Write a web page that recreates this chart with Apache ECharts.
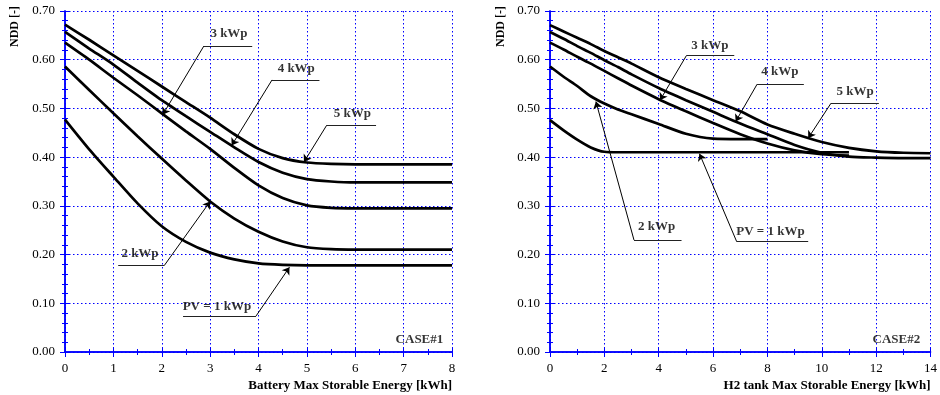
<!DOCTYPE html>
<html>
<head>
<meta charset="utf-8">
<script src="https://cdn.jsdelivr.net/npm/echarts@6/dist/echarts.min.js"></script>
<style>
  html, body { margin: 0; padding: 0; background: #fff; }
  #chart { width: 940px; height: 395px; }
</style>
</head>
<body>
<div id="chart"></div>
<script>
// CASE#1 : battery storage
const batteryX = [0, 0.5, 1, 1.5, 2, 2.5, 3, 3.5, 4, 4.5, 5, 5.5, 6, 6.5, 7, 7.5, 8];
const battery5kWp = [0.672, 0.641, 0.609, 0.577, 0.545, 0.513, 0.481, 0.447, 0.417, 0.398, 0.389, 0.386, 0.385, 0.385, 0.385, 0.385, 0.385];
const battery4kWp = [0.657, 0.623, 0.590, 0.553, 0.517, 0.484, 0.452, 0.420, 0.390, 0.368, 0.355, 0.350, 0.348, 0.348, 0.348, 0.348, 0.348];
const battery3kWp = [0.635, 0.600, 0.563, 0.527, 0.490, 0.453, 0.417, 0.378, 0.342, 0.316, 0.301, 0.296, 0.295, 0.295, 0.295, 0.295, 0.295];
const battery2kWp = [0.586, 0.538, 0.490, 0.443, 0.397, 0.352, 0.309, 0.274, 0.247, 0.227, 0.215, 0.211, 0.210, 0.210, 0.210, 0.210, 0.210];
const battery1kWp = [0.477, 0.416, 0.360, 0.305, 0.258, 0.226, 0.204, 0.190, 0.182, 0.179, 0.178, 0.178, 0.178, 0.178, 0.178, 0.178, 0.178];

// CASE#2 : H2 tank storage
const tankX = [0, 0.5, 1, 1.5, 2, 2.5, 3, 4, 5, 6, 7, 8, 9, 10, 11, 12, 13, 14];
const tank5kWp = [0.671, 0.658, 0.645, 0.632, 0.618, 0.605, 0.592, 0.564, 0.540, 0.517, 0.494, 0.467, 0.448, 0.431, 0.419, 0.412, 0.409, 0.408];
const tank4kWp = [0.657, 0.643, 0.628, 0.614, 0.599, 0.585, 0.570, 0.542, 0.517, 0.493, 0.469, 0.447, 0.425, 0.409, 0.401, 0.399, 0.398, 0.398];
const tank3kWp = [0.635, 0.621, 0.606, 0.592, 0.577, 0.562, 0.547, 0.519, 0.494, 0.470, 0.447, 0.428, 0.414, 0.406, 0.403];
const tank2kWp = [0.586, 0.565, 0.546, 0.525, 0.510, 0.498, 0.488, 0.468, 0.448, 0.438, 0.437, 0.437];
const tank1kWp = [0.476, 0.455, 0.436, 0.420, 0.411, 0.410, 0.410, 0.410, 0.410, 0.410, 0.410, 0.410, 0.410, 0.410, 0.410];

// annotations (data coords): label centre, underline end, underline start, arrow tip
const case1Notes = [
  { text: "3 kWp", at: [3.39, 0.653], line: [[3.87, 0.628], [2.87, 0.628], [2.02, 0.487]] },
  { text: "4 kWp", at: [4.78, 0.581], line: [[5.26, 0.5585], [4.28, 0.5585], [3.445, 0.424]] },
  { text: "5 kWp", at: [5.94, 0.489], line: [[6.43, 0.4655], [5.41, 0.4655], [4.94, 0.390]] },
  { text: "2 kWp", at: [1.55, 0.201], line: [[1.10, 0.1786], [2.06, 0.1786], [3.0, 0.309]] },
  { text: "PV = 1 kWp", at: [3.14, 0.094], line: [[2.44, 0.074], [3.95, 0.074], [4.64, 0.174]] },
];
const case2Notes = [
  { text: "3 kWp", at: [5.88, 0.628], line: [[6.78, 0.6085], [5.02, 0.6085], [4.05, 0.517]] },
  { text: "4 kWp", at: [8.46, 0.575], line: [[9.34, 0.5497], [7.62, 0.5497], [6.83, 0.473]] },
  { text: "5 kWp", at: [11.23, 0.534], line: [[12.10, 0.5107], [10.34, 0.5107], [9.50, 0.439]] },
  { text: "2 kWp", at: [3.92, 0.257], line: [[4.84, 0.230], [3.09, 0.230], [1.69, 0.514]] },
  { text: "PV = 1 kWp", at: [8.11, 0.248], line: [[9.50, 0.2265], [6.87, 0.2265], [5.50, 0.407]] },
];
const caseLabels = [
  { text: "CASE#1", at: [7.82, 0.025] },
  { text: "CASE#2", at: [13.62, 0.025] },
];

const SERIF = "'Liberation Serif', 'DejaVu Serif', serif";
const BLUE = "#0000ff";

const zip = (xs, ys) => ys.map((y, i) => [xs[i], y]);

function axesFor(grid, max, interval, name) {
  const common = {
    gridIndex: grid,
    min: 0,
    axisLine: { show: true, lineStyle: { color: BLUE, width: 1.5 } },
    axisTick: { show: true, inside: true, length: 5, lineStyle: { color: BLUE } },
    minorTick: { show: true, length: 3, lineStyle: { color: BLUE } },
  };
  const xs = [
    {
      ...common, type: "value", max, interval, position: "bottom",
      minorTick: { ...common.minorTick, splitNumber: 2 },
      axisLabel: { color: "#000", fontFamily: SERIF, fontSize: 13, margin: 10 },
      splitLine: { show: true, lineStyle: { color: BLUE, type: [1.5, 2.5], width: 1 } },
      name,
      nameLocation: "end",
      nameGap: 0,
      nameTextStyle: { color: "#000", fontFamily: SERIF, fontWeight: "bold", fontSize: 13, align: "right", verticalAlign: "top", padding: [27, 0, 0, 0] },
    },
    {
      ...common, type: "value", max, interval, position: "top",
      minorTick: { ...common.minorTick, splitNumber: 2 },
      axisLabel: { show: false }, splitLine: { show: false },
    },
  ];
  const ys = [
    {
      ...common, type: "value", max: 0.7, interval: 0.1, position: "left",
      minorTick: { ...common.minorTick, splitNumber: 5 },
      axisLabel: { color: "#000", fontFamily: SERIF, fontSize: 13, margin: 10, formatter: (v) => v.toFixed(2) },
      splitLine: { show: true, lineStyle: { color: BLUE, type: [1.5, 2.5], width: 1 } },
    },
    {
      ...common, type: "value", max: 0.7, interval: 0.1, position: "right",
      minorTick: { ...common.minorTick, splitNumber: 5 },
      axisLabel: { show: false }, splitLine: { show: false },
    },
  ];
  return { xs, ys };
}

function curve(xIdx, yIdx, data) {
  return {
    type: "line", xAxisIndex: xIdx, yAxisIndex: yIdx, data,
    symbol: "none", smooth: 0.25,
    lineStyle: { color: "#000", width: 2.7 }, silent: true, z: 3,
  };
}

const labelStyle = { show: true, position: "inside", formatter: "{b}", color: "#000", fontFamily: SERIF, fontWeight: "bold", fontSize: 13 };

function notes(xIdx, yIdx, list) {
  return [
    {
      type: "lines", coordinateSystem: "cartesian2d", xAxisIndex: xIdx, yAxisIndex: yIdx,
      symbol: "none", silent: true, z: 4,
      lineStyle: { color: "#222", width: 1, opacity: 1 },
      data: list.map((n) => ({ coords: [n.line[0], n.line[1]] })),
    },
    {
      type: "lines", coordinateSystem: "cartesian2d", xAxisIndex: xIdx, yAxisIndex: yIdx,
      symbol: ["none", "arrow"], symbolSize: [0, 7], silent: true, z: 4,
      lineStyle: { color: "#000", width: 1, opacity: 1 },
      data: list.map((n) => ({ coords: [n.line[1], n.line[2]] })),
    },
    {
      type: "scatter", xAxisIndex: xIdx, yAxisIndex: yIdx, symbolSize: 1, silent: true, z: 5,
      itemStyle: { color: "transparent" },
      label: labelStyle,
      data: list.map((n) => ({ name: n.text, value: n.at })),
    },
  ];
}

function caseTag(xIdx, yIdx, c) {
  return {
    type: "scatter", xAxisIndex: xIdx, yAxisIndex: yIdx, symbolSize: 1, silent: true, z: 5,
    itemStyle: { color: "transparent" },
    label: { ...labelStyle, align: "right" },
    data: [{ name: c.text, value: c.at }],
  };
}

const left = axesFor(0, 8, 1, "Battery Max Storable Energy [kWh]");
const right = axesFor(1, 14, 2, "H2 tank Max Storable Energy [kWh]");

const chart = echarts.init(document.getElementById("chart"), null, { renderer: "canvas" });
chart.setOption({
  animation: false,
  backgroundColor: "#fff",
  grid: [
    { left: 65, top: 11, width: 387, height: 341 },
    { left: 550, top: 11, width: 386, height: 341 },
  ],
  xAxis: [...left.xs, ...right.xs],
  yAxis: [...left.ys, ...right.ys],
  graphic: [
    { type: "text", x: 21, y: 47, rotation: Math.PI / 2, style: { text: "NDD [-]", font: "bold 12px " + SERIF, fill: "#000", textAlign: "left", textVerticalAlign: "bottom" } },
    { type: "text", x: 507, y: 47, rotation: Math.PI / 2, style: { text: "NDD [-]", font: "bold 12px " + SERIF, fill: "#000", textAlign: "left", textVerticalAlign: "bottom" } },
  ],
  series: [
    curve(0, 0, zip(batteryX, battery5kWp)),
    curve(0, 0, zip(batteryX, battery4kWp)),
    curve(0, 0, zip(batteryX, battery3kWp)),
    curve(0, 0, zip(batteryX, battery2kWp)),
    curve(0, 0, zip(batteryX, battery1kWp)),
    ...notes(0, 0, case1Notes),
    caseTag(0, 0, caseLabels[0]),
    curve(2, 2, zip(tankX, tank5kWp)),
    curve(2, 2, zip(tankX, tank4kWp)),
    curve(2, 2, zip(tankX, tank3kWp)),
    curve(2, 2, zip(tankX, tank2kWp)),
    curve(2, 2, zip(tankX, tank1kWp)),
    ...notes(2, 2, case2Notes),
    caseTag(2, 2, caseLabels[1]),
  ],
});
</script>
</body>
</html>
